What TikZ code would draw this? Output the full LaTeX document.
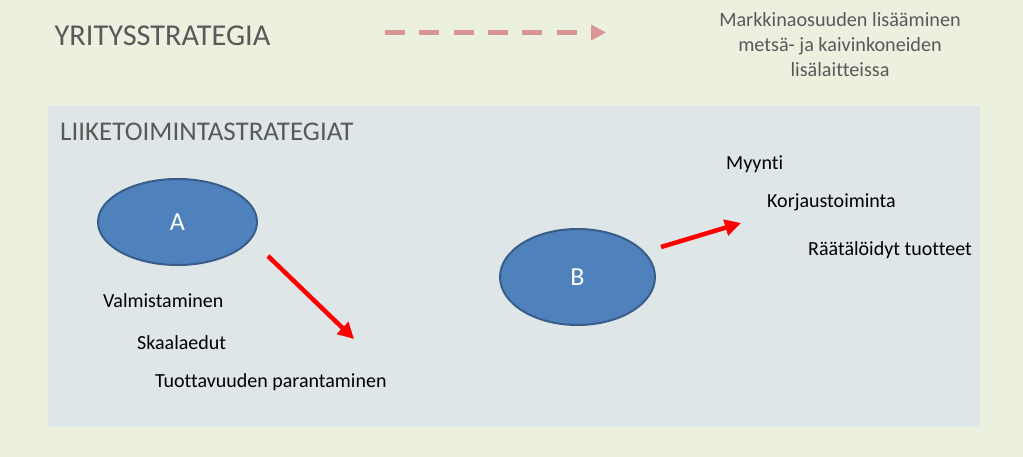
\documentclass[tikz,border=0pt]{standalone}
\usepackage{fontspec}
\setmainfont[Ligatures=CommonOff]{Carlito}
\usetikzlibrary{arrows.meta,shapes.geometric}
\definecolor{bgc}{HTML}{EBF0DF}
\definecolor{boxc}{HTML}{DFE6E7}
\definecolor{grayt}{HTML}{595959}
\definecolor{dashc}{HTML}{D99594}
\definecolor{ellf}{HTML}{4F81BD}
\definecolor{elld}{HTML}{385D8A}
\tikzset{
  ell/.style={ellipse, draw=elld, fill=ellf, line width=2pt, inner sep=0pt, text=white, font=\fontsize{26}{30}\selectfont},
  item/.style={anchor=west, inner sep=0pt, text=black, font=\fontsize{20}{24}\selectfont},
  redarrow/.style={draw=red, line width=4.5pt, -{Triangle[length=16pt,width=16pt]}},
}
\begin{document}
\begin{tikzpicture}[x=1pt,y=-1pt]
\useasboundingbox (0,0) rectangle (1023,457);
\fill[bgc] (0,0) rectangle (1023,457);
\fill[boxc] (48,106) rectangle (980,427);
\node[anchor=west, inner sep=0pt, text=grayt, font=\fontsize{30.3}{36}\selectfont] (title) at (54.5,36) {YRITYSSTRATEGIA};
\coordinate (ds) at (385,32.5);
\coordinate (de) at (606,32.5);
\draw[dashc, line width=5pt, dash pattern=on 20pt off 14.3pt, -{Triangle[length=15pt,width=15pt]}] (ds) -- (de);
\node[align=center, inner sep=0pt, text=grayt, font=\fontsize{20.2}{25}\selectfont] (goal) at (840,45) {Markkinaosuuden lisääminen\\metsä- ja kaivinkoneiden\\lisälaitteissa};
\node[anchor=west, inner sep=0pt, text=grayt, font=\fontsize{27}{32}\selectfont] (sub) at (60,132) {LIIKETOIMINTASTRATEGIAT};
\node[ell, minimum width=159pt, minimum height=86pt] (A) at (177.5,222) {A};
\node[ell, minimum width=155pt, minimum height=96pt] (B) at (577.5,277) {B};
\node[item] (v) at (103,301) {Valmistaminen};
\node[item] (s) at (137,343) {Skaalaedut};
\node[item] (t) at (155,382) {Tuottavuuden parantaminen};
\node[item] (m) at (726,164) {Myynti};
\node[item] (k) at (767,202) {Korjaustoiminta};
\node[item] (r) at (808,250) {Räätälöidyt tuotteet};
\coordinate (a1) at (268,256);
\coordinate (a2) at (354,339);
\coordinate (b1) at (661,247);
\coordinate (b2) at (741,223);
\draw[redarrow] (a1) -- (a2);
\draw[redarrow] (b1) -- (b2);
\end{tikzpicture}
\end{document}
